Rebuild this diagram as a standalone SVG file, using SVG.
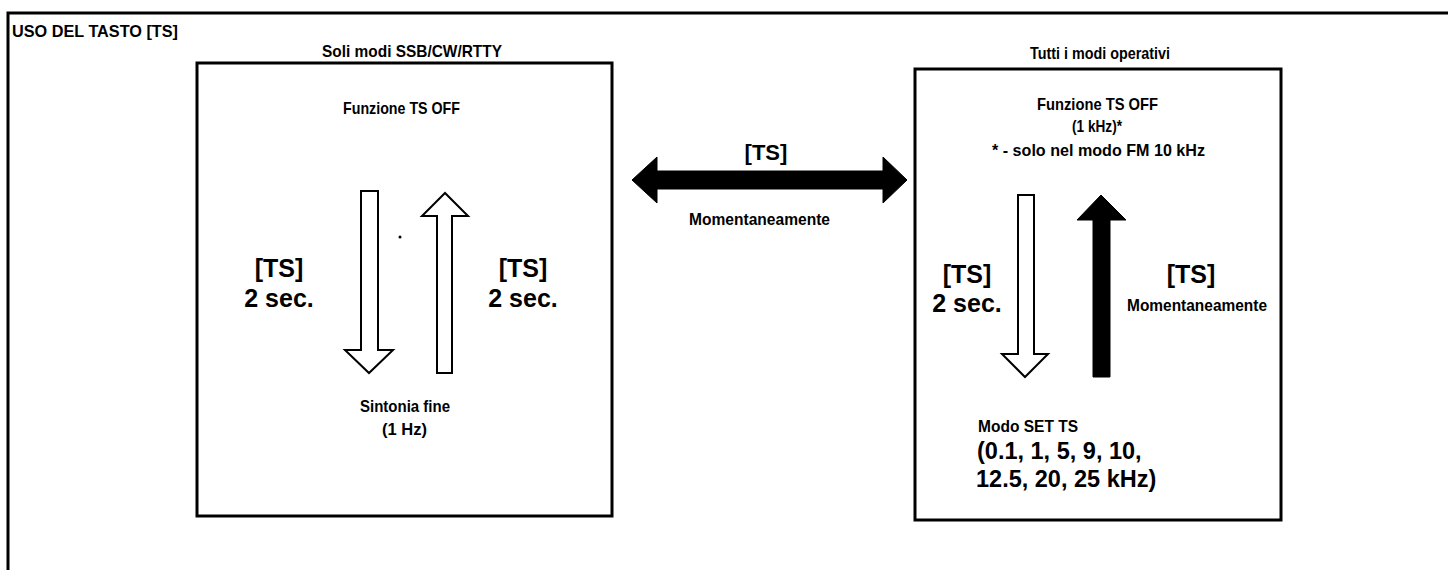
<svg xmlns="http://www.w3.org/2000/svg" width="1448" height="570" viewBox="0 0 1448 570">
<style>
.frame{fill:none;stroke:#000;stroke-width:3}
.box{fill:#fff;stroke:#000;stroke-width:3}
.hollow{fill:#fff;stroke:#000;stroke-width:2;stroke-linejoin:miter}
.solid{fill:#000;stroke:#000;stroke-width:1}
.s{font-family:"Liberation Sans",Arial,sans-serif;font-weight:bold;font-size:17px;fill:#000}
.l{font-family:"Liberation Sans",Arial,sans-serif;font-weight:bold;font-size:25px;fill:#000;text-anchor:middle}
.n{font-family:"Liberation Sans",Arial,sans-serif;font-weight:bold;font-size:23.5px;fill:#000}
</style>
<rect width="1448" height="570" fill="#fff"/>
<g id="frame">
<polyline class="frame" points="8,570 8,13 1448,13"/>
<text class="s" x="12" y="37" textLength="166" lengthAdjust="spacingAndGlyphs">USO DEL TASTO [TS]</text>
</g>
<g id="box-left">
<text class="s" x="322" y="57" textLength="180" lengthAdjust="spacingAndGlyphs">Soli modi SSB/CW/RTTY</text>
<rect class="box" x="197" y="63" width="415" height="453"/>
<text class="s" x="343" y="114" textLength="117" lengthAdjust="spacingAndGlyphs">Funzione TS OFF</text>
<text class="s" x="360" y="412" textLength="90" lengthAdjust="spacingAndGlyphs">Sintonia fine</text>
<text class="s" x="382" y="435" textLength="45" lengthAdjust="spacingAndGlyphs">(1 Hz)</text>
<circle cx="400" cy="237" r="1.5" fill="#000"/>
</g>
<g id="box-right">
<text class="s" x="1030" y="59" textLength="140" lengthAdjust="spacingAndGlyphs">Tutti i modi operativi</text>
<rect class="box" x="915" y="69" width="366" height="451"/>
<text class="s" x="1037" y="110" textLength="121" lengthAdjust="spacingAndGlyphs">Funzione TS OFF</text>
<text class="s" x="1072" y="132" textLength="50" lengthAdjust="spacingAndGlyphs">(1 kHz)*</text>
<text class="s" x="992" y="156" textLength="213" lengthAdjust="spacingAndGlyphs">* - solo nel modo FM 10 kHz</text>
<text class="s" x="978" y="432" textLength="100" lengthAdjust="spacingAndGlyphs">Modo SET TS</text>
<text class="n" x="977" y="459">(0.1, 1, 5, 9, 10,</text>
<text class="n" x="976" y="487">12.5, 20, 25 kHz)</text>
</g>
<g id="connectors">
<polygon class="hollow" points="361,191 378,191 378,350 393,350 369,373 345,350 361,350"/>
<polygon class="hollow" points="437,373 452,373 452,216 468,216 445,193 422,216 437,216"/>
<polygon class="hollow" points="1018,195 1034,195 1034,354 1048,354 1025,377 1002,354 1018,354"/>
<polygon class="solid" points="1093,377 1110,377 1110,220 1126,220 1101,195 1077,220 1093,220"/>
<polygon class="solid" points="632,180 657,157 657,171 883,171 883,157 907,180 883,203 883,189 657,189 657,203"/>
</g>
<g id="labels">
<text class="l" x="279" y="277">[TS]</text>
<text class="l" x="279" y="307">2 sec.</text>
<text class="l" x="523" y="277">[TS]</text>
<text class="l" x="523" y="307">2 sec.</text>
<text class="l" x="766" y="160" style="font-size:22px">[TS]</text>
<text class="s" x="689" y="225" textLength="141" lengthAdjust="spacingAndGlyphs">Momentaneamente</text>
<text class="l" x="967" y="283">[TS]</text>
<text class="l" x="967" y="312">2 sec.</text>
<text class="l" x="1191" y="283">[TS]</text>
<text class="s" x="1127" y="311" textLength="140" lengthAdjust="spacingAndGlyphs">Momentaneamente</text>
</g>
</svg>
